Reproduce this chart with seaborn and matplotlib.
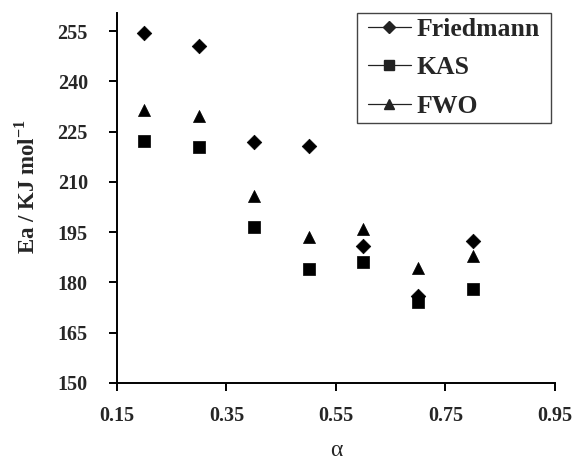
import matplotlib
matplotlib.use("Agg")
import matplotlib.pyplot as plt
from matplotlib.lines import Line2D
from matplotlib.patches import Rectangle
import seaborn as sns
import pandas as pd

# Conversion degree
alpha = [0.2, 0.3, 0.4, 0.5, 0.6, 0.7, 0.8]

# Activation energies (kJ/mol) from the three isoconversional methods
friedmann = [254.3, 250.5, 222.0, 220.8, 190.9, 176.0, 192.5]
kas = [222.3, 220.5, 196.4, 183.9, 186.2, 174.3, 178.1]
fwo = [231.4, 229.7, 205.9, 193.6, 196.0, 184.2, 188.0]

x_ticks = [0.15, 0.35, 0.55, 0.75, 0.95]
x_tick_labels = ["0.15", "0.35", "0.55", "0.75", "0.95"]
y_ticks = [150, 165, 180, 195, 210, 225, 240, 255]

methods = ["Friedmann", "KAS", "FWO"]
marker_map = {"Friedmann": "D", "KAS": "s", "FWO": "^"}
size_map = {"Friedmann": 55, "KAS": 70, "FWO": 75}

df = pd.concat([
    pd.DataFrame({"alpha": alpha, "Ea": friedmann, "method": "Friedmann"}),
    pd.DataFrame({"alpha": alpha, "Ea": kas, "method": "KAS"}),
    pd.DataFrame({"alpha": alpha, "Ea": fwo, "method": "FWO"}),
])

sns.set_style("ticks")
plt.rcParams["font.family"] = ["Liberation Serif", "DejaVu Serif"]
plt.rcParams["mathtext.fontset"] = "custom"
plt.rcParams["mathtext.rm"] = "Liberation Serif"
plt.rcParams["mathtext.bf"] = "Liberation Serif:bold"

fig = plt.figure(figsize=(5.8, 4.62), dpi=100)
ax = fig.add_axes([0.2017, 0.171, 0.7552, 0.801])

for m in methods:
    sub = df[df["method"] == m]
    sns.scatterplot(data=sub, x="alpha", y="Ea", marker=marker_map[m],
                    s=size_map[m], color="black", edgecolor="black",
                    linewidth=0.5, ax=ax, legend=False, zorder=3)

ax.set_xlim(0.15, 0.95)
ax.set_ylim(150, 260.4)
ax.set_xticks(x_ticks)
ax.set_xticklabels(x_tick_labels)
ax.set_yticks(y_ticks)

for lab in ax.get_xticklabels() + ax.get_yticklabels():
    lab.set_fontweight("bold")
    lab.set_fontsize(14.5)

ax.tick_params(axis="y", direction="out", length=6, width=1.4,
               color="black", pad=15)
ax.tick_params(axis="x", direction="out", length=5.5, width=1.4,
               color="black", pad=11)
sns.despine(ax=ax)
for sp in ["left", "bottom"]:
    ax.spines[sp].set_linewidth(1.4)
    ax.spines[sp].set_color("black")

ax.set_xlabel("α", fontsize=17, labelpad=10.5)
ax.set_ylabel("Ea / KJ mol$^{\\mathbf{-1}}$", fontsize=16.5,
              fontweight="bold")
ax.yaxis.set_label_coords(-0.178, 0.53)

handles = [Line2D([], [], color="#222222", lw=0.9, marker=marker_map[m],
                  markersize=6 if m == "Friedmann" else 7.5)
           for m in methods]
leg = ax.legend(handles, methods, loc="upper right",
                bbox_to_anchor=(0.975, 1.0), frameon=False,
                prop={"family": "Liberation Serif", "weight": "bold",
                      "size": 18.5},
                handlelength=1.65, handletextpad=0.22, labelspacing=0.62,
                borderpad=0.18, borderaxespad=0.0)

# Legend frame with wider side margins than top/bottom
fig.canvas.draw()
bb = leg.get_window_extent()
side = 7
frame = Rectangle((bb.x0 - side, bb.y0), bb.width + 2 * side, bb.height,
                  transform=None, fill=False, edgecolor="#444444",
                  linewidth=1.0, zorder=5)
fig.add_artist(frame)

fig.savefig("out.png", dpi=100)
